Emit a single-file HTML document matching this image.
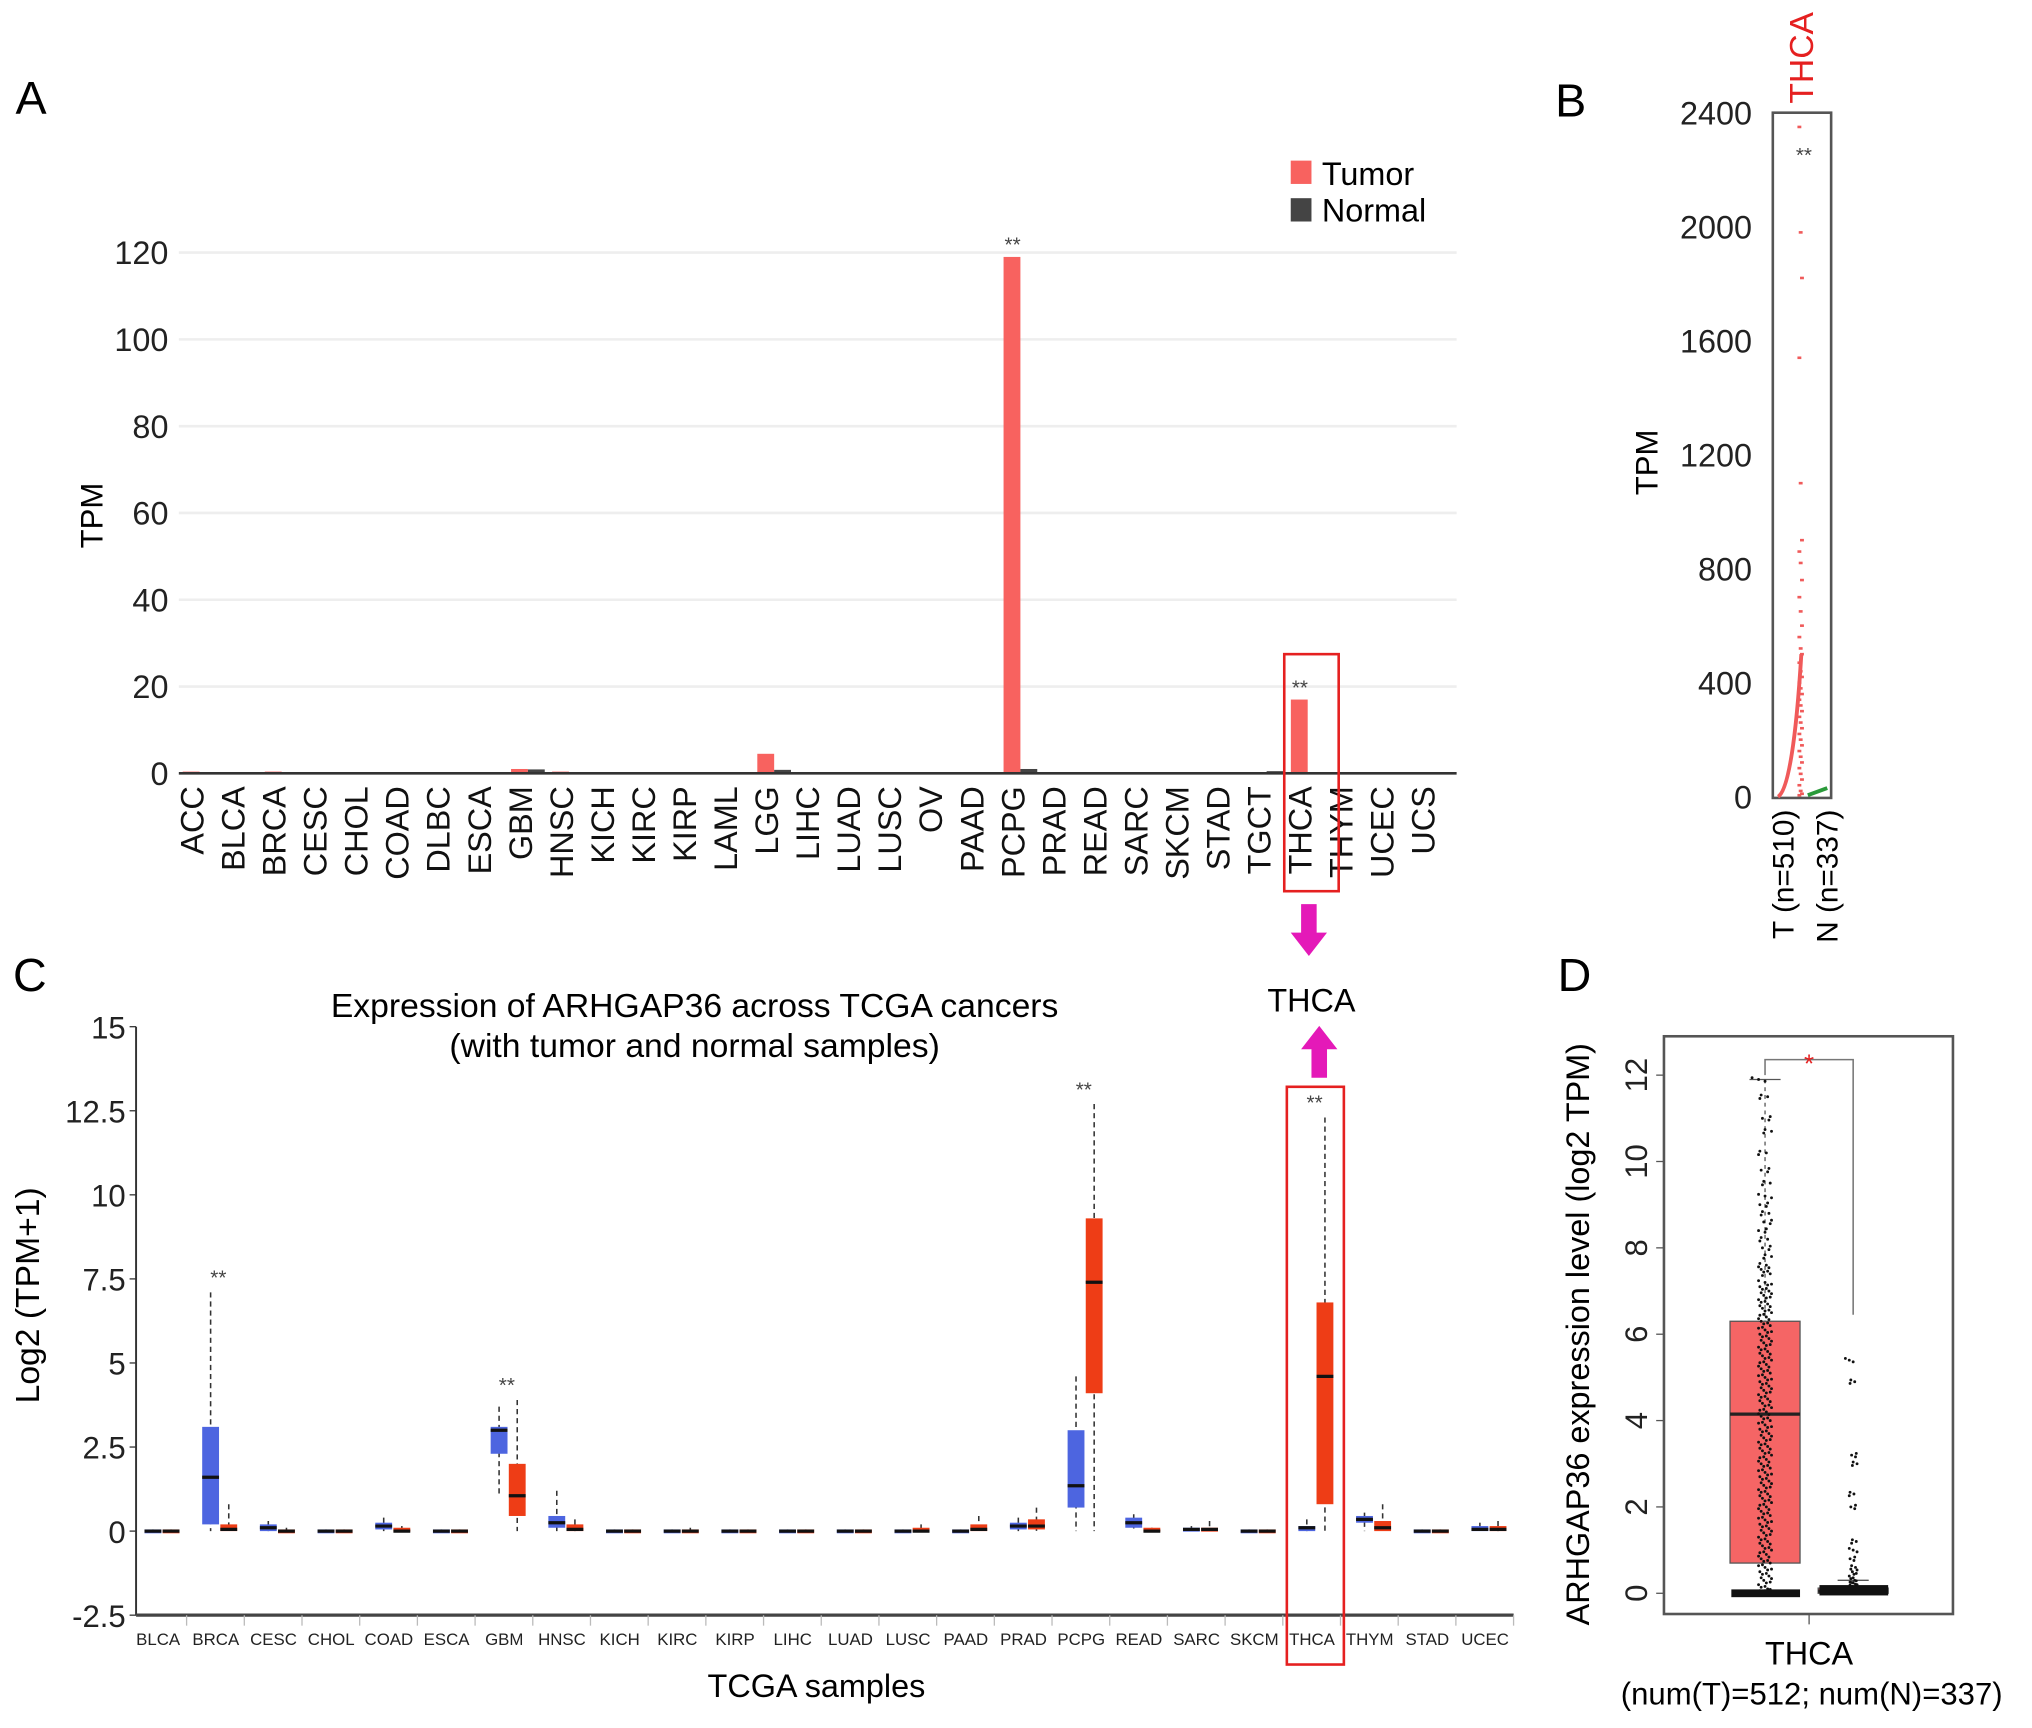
<!DOCTYPE html>
<html><head><meta charset="utf-8"><style>
html,body{margin:0;padding:0;background:#fff}
svg{display:block;font-family:"Liberation Sans",sans-serif}
</style></head><body>
<svg id="fig" width="2032" height="1728" viewBox="0 0 1568 1334" preserveAspectRatio="none" xmlns="http://www.w3.org/2000/svg">
<g id="pA"></g>
<g id="pB"></g>
<g id="pC"></g>
<g id="pD"></g>
</svg>
<script>
// ---- Panel A data ----
const catsA = ["ACC","BLCA","BRCA","CESC","CHOL","COAD","DLBC","ESCA","GBM","HNSC","KICH","KIRC","KIRP","LAML","LGG","LIHC","LUAD","LUSC","OV","PAAD","PCPG","PRAD","READ","SARC","SKCM","STAD","TGCT","THCA","THYM","UCEC","UCS"];
const tumorA = [0.4,0.1,0.4,0.2,0.1,0.2,0.1,0.1,1.0,0.4,0.1,0.1,0.1,0.0,4.5,0.1,0.1,0.3,0.3,0.3,119,0.3,0.2,0.3,0.1,0.1,0.3,17,0.2,0.3,0.3];
const normalA = [0.1,0.2,0.2,0.2,0.2,0.2,0.2,0.2,0.9,0.3,0.2,0.2,0.2,0.0,0.8,0.2,0.2,0.2,0.2,0.2,1.0,0.2,0.2,0.2,0.2,0.2,0.5,0.2,0.2,0.2,0.2];
const ticksA = [0,20,40,60,80,100,120];
const starsA = ["PCPG","THCA"];
// ---- Panel B data ----
const ticksB = [0,400,800,1200,1600,2000,2400];
const pointsB = [2350,1980,1820,1540,1100,900,860,820,760,700,650,600,560,520,500,470,440,420,400,380,360,340,320,300,280,260,240,220,200,180,160,140,120,100,80,60,40,20,10,5];
// ---- Panel C data ----
const catsC = ["BLCA","BRCA","CESC","CHOL","COAD","ESCA","GBM","HNSC","KICH","KIRC","KIRP","LIHC","LUAD","LUSC","PAAD","PRAD","PCPG","READ","SARC","SKCM","THCA","THYM","STAD","UCEC"];
// [whiskerLow, q1, median, q3, whiskerHigh]
const normC = [[0,0,0,0.05,0.05],[0,0.2,1.6,3.1,7.1],[0,0,0.1,0.2,0.3],[0,0,0,0.05,0.05],[0,0.05,0.15,0.25,0.4],[0,0,0,0.05,0.05],[1.1,2.3,3.0,3.1,3.7],[0,0.1,0.25,0.45,1.2],[0,0,0,0.05,0.05],[0,0,0,0.05,0.05],[0,0,0,0.05,0.05],[0,0,0,0.05,0.05],[0,0,0,0.05,0.05],[0,0,0,0.05,0.05],[0,0,0,0.05,0.05],[0,0.05,0.15,0.25,0.4],[0,0.7,1.35,3.0,4.6],[0,0.1,0.25,0.4,0.5],[0,0,0.05,0.1,0.15],[0,0,0,0.05,0.05],[0,0,0.1,0.15,0.35],[0,0.25,0.35,0.45,0.55],[0,0,0,0.05,0.05],[0,0,0.05,0.15,0.25]];
const tumC = [[0,0,0,0.05,0.05],[0,0,0.05,0.2,0.8],[0,0,0,0.05,0.1],[0,0,0,0.05,0.05],[0,0,0,0.1,0.15],[0,0,0,0.05,0.05],[0,0.45,1.05,2.0,3.9],[0,0,0.05,0.2,0.35],[0,0,0,0.05,0.05],[0,0,0,0.05,0.1],[0,0,0,0.05,0.05],[0,0,0,0.05,0.05],[0,0,0,0.05,0.05],[0,0,0,0.1,0.2],[0,0,0.05,0.2,0.45],[0,0.05,0.15,0.35,0.7],[0,4.1,7.4,9.3,12.7],[0,0,0,0.1,0.1],[0,0,0.05,0.1,0.3],[0,0,0,0.05,0.05],[0,0.8,4.6,6.8,12.3],[0,0,0.1,0.3,0.8],[0,0,0,0.05,0.05],[0,0,0.05,0.15,0.3]];
const ticksC = [-2.5,0,2.5,5,7.5,10,12.5,15];
const tickLabC = ["-2.5","0","2.5","5","7.5","10","12.5","15"];
const starsC = ["BRCA","GBM","PCPG","THCA"];
// ---- Panel D data ----
const ticksD = [0,2,4,6,8,10,12];
const tumorBoxD = [0,0.7,4.15,6.3,11.9];
const normalBoxD = [0,0,0.05,0.12,0.3];
const tumorPtsD = [11.9,11.5,11.0,10.7,10.2,9.8,9.5,9.2,9.0,8.8,8.6,8.4,8.2,8.0,7.8,7.6,7.5,7.4,7.2,7.1,7.0,6.9,6.8,6.7,6.6,6.5,6.4,6.3,6.2,6.1,6.0,5.9,5.8,5.7,5.6,5.5,5.4,5.3,5.2,5.1,5.0,4.9,4.8,4.7,4.6,4.5,4.4,4.3,4.2,4.1,4.0,3.9,3.8,3.7,3.6,3.5,3.4,3.3,3.2,3.1,3.0,2.9,2.8,2.7,2.6,2.5,2.4,2.3,2.2,2.1,2.0,1.9,1.8,1.7,1.6,1.5,1.4,1.3,1.2,1.1,1.0,0.9,0.8,0.7,0.6,0.5,0.4,0.3,0.2,0.1,0.05,0.02,0];
const normalPtsD = [5.4,4.9,3.2,3.0,2.3,2.0,1.2,1.0,0.8,0.6,0.5,0.4,0.3,0.25,0.2,0.15,0.1,0.05,0];

const NS="http://www.w3.org/2000/svg";
function mk(parent,tag,attrs,text){const e=document.createElementNS(NS,tag);for(const k in attrs)e.setAttribute(k,attrs[k]);if(text!==undefined)e.textContent=text;parent.appendChild(e);return e;}
const A=document.getElementById('pA'),B=document.getElementById('pB'),C=document.getElementById('pC'),D=document.getElementById('pD');
let t;

// ===== Panel A =====
t=mk(A,'text',{x:12,y:88,'font-size':36},'A');


const yA=v=>597-v*(402/120);
const xA=i=>148+i*31.67;
ticksA.forEach(v=>{
  const g=mk(A,'line',{x1:138,x2:1124,y1:yA(v),y2:yA(v),stroke:'#eeeeee','stroke-width':2});
  
  
  const l=mk(A,'text',{x:130,y:yA(v)+9,'font-size':25,'text-anchor':'end',fill:'#222'},String(v));
  
  
});
catsA.forEach((c,i)=>{
  const x=xA(i);
  const tb=mk(A,'rect',{x:x-7,y:yA(tumorA[i]),width:13,height:597-yA(tumorA[i]),fill:'#f8625f'});
  
  
  const nb=mk(A,'rect',{x:x+6,y:yA(normalA[i]),width:13,height:597-yA(normalA[i]),fill:'#444'});
  
  
  const l=mk(A,'text',{x:0,y:0,'font-size':25,'text-anchor':'end',fill:'#111',transform:`translate(${x+9},607) rotate(-90)`},c);
  
  
  if(starsA.includes(c)){
    const s=mk(A,'text',{x:x,y:yA(tumorA[i])-4,'font-size':16,'text-anchor':'middle',fill:'#444'},'**');
    
    
  }
});
t=mk(A,'line',{x1:138,x2:1124,y1:597,y2:597,stroke:'#333','stroke-width':2});


t=mk(A,'text',{x:0,y:0,'font-size':24,'text-anchor':'middle',transform:'translate(79,398) rotate(-90)'},'TPM');


t=mk(A,'rect',{x:996,y:124,width:16,height:18,fill:'#f8625f'});


t=mk(A,'text',{x:1020,y:143,'font-size':25},'Tumor');


t=mk(A,'rect',{x:996,y:153,width:16,height:18,fill:'#444'});


t=mk(A,'text',{x:1020,y:171,'font-size':25},'Normal');


t=mk(A,'rect',{x:991,y:505,width:42,height:183,fill:'none',stroke:'#e52020','stroke-width':2});


t=mk(A,'path',{d:'M1004,698 h12 v22 h8 l-14,18 l-14,-18 h8 z',fill:'#e419b8'});


t=mk(A,'text',{x:1012,y:781,'font-size':25,'text-anchor':'middle'},'THCA');


t=mk(A,'path',{d:'M1012,832 h12 v-22 h8 l-14,-18 l-14,18 h8 z',fill:'#e419b8'});



// ===== Panel B =====
t=mk(B,'text',{x:1200,y:90,'font-size':36},'B');


const yB=v=>615-v*(528/2400);
ticksB.forEach(v=>{
  const l=mk(B,'text',{x:1352,y:yB(v)+9,'font-size':25,'text-anchor':'end',fill:'#222'},String(v));
  
  
});
t=mk(B,'rect',{x:1368,y:87,width:45,height:529,fill:'none',stroke:'#555','stroke-width':2});


t=mk(B,'text',{x:0,y:0,'font-size':24,'text-anchor':'middle',transform:'translate(1279,357) rotate(-90)'},'TPM');


t=mk(B,'text',{x:0,y:0,'font-size':26,'fill':'#e52020',transform:'translate(1399,80) rotate(-90)'},'THCA');


t=mk(B,'text',{x:1392,y:125,'font-size':16,'text-anchor':'middle',fill:'#444'},'**');


pointsB.forEach((v,i)=>{
  const p=mk(B,'rect',{x:1387+(i%3),y:yB(v)-1,width:3,height:2,fill:'#f05a5a'});
  
  
});
t=mk(B,'path',{d:`M1372,${yB(0)} C1380,${yB(20)} 1386,${yB(200)} 1390,${yB(500)}`,fill:'none',stroke:'#f05a5a','stroke-width':3});


t=mk(B,'path',{d:`M1395,${yB(5)} L1410,${yB(30)}`,fill:'none',stroke:'#2a9a3a','stroke-width':3});


t=mk(B,'text',{x:0,y:0,'font-size':23,'text-anchor':'end',transform:'translate(1384,625) rotate(-90)'},'T (n=510)');


t=mk(B,'text',{x:0,y:0,'font-size':23,'text-anchor':'end',transform:'translate(1418,625) rotate(-90)'},'N (n=337)');



// ===== Panel C =====
t=mk(C,'text',{x:10,y:765,'font-size':36},'C');


const yC=v=>1182-v*(64.9/2.5);
const xC=i=>122+i*44.52;
ticksC.forEach((v,k)=>{
  const l=mk(C,'text',{x:97,y:yC(v)+9,'font-size':24,'text-anchor':'end',fill:'#222'},tickLabC[k]);
  
  
  const tk=mk(C,'line',{x1:100,x2:105,y1:yC(v),y2:yC(v),stroke:'#333','stroke-width':1});
  
  
});
t=mk(C,'line',{x1:105,x2:105,y1:yC(15),y2:yC(-2.5),stroke:'#333','stroke-width':1.5});


t=mk(C,'line',{x1:105,x2:1168,y1:yC(-2.5),y2:yC(-2.5),stroke:'#444','stroke-width':2.5});


function boxC(x,b,col,name){
  const w=mk(C,'line',{x1:x,x2:x,y1:yC(b[4]),y2:yC(b[0]),stroke:'#333','stroke-width':1.2,'stroke-dasharray':'4,3'});
  
  
  const r=mk(C,'rect',{x:x-6.5,y:yC(b[3]),width:13,height:Math.max(3,yC(b[1])-yC(b[3])),fill:col});
  
  
  const m=mk(C,'line',{x1:x-6.5,x2:x+6.5,y1:yC(b[2]),y2:yC(b[2]),stroke:'#111','stroke-width':2.5});
  
  
}
catsC.forEach((c,i)=>{
  const x=xC(i);
  boxC(x-4,normC[i],'#4d65e0','normal-'+c.toLowerCase());
  boxC(x+10,tumC[i],'#ee3d16','tumor-'+c.toLowerCase());
  const l=mk(C,'text',{x:x,y:1270,'font-size':13,'text-anchor':'middle',fill:'#222'},c);
  
  
  const sep=mk(C,'line',{x1:x+22,x2:x+22,y1:1247,y2:1255,stroke:'#bbb','stroke-width':1});
  
  
  if(starsC.includes(c)){
    const hi=Math.max(normC[i][4],tumC[i][4]);
    const s=mk(C,'text',{x:x+2,y:yC(hi)-6,'font-size':16,'text-anchor':'middle',fill:'#444'},'**');
    
    
  }
});
t=mk(C,'text',{x:536,y:785,'font-size':26,'text-anchor':'middle'},'Expression of ARHGAP36 across TCGA cancers');


t=mk(C,'text',{x:536,y:816,'font-size':26,'text-anchor':'middle'},'(with tumor and normal samples)');


t=mk(C,'text',{x:630,y:1310,'font-size':25,'text-anchor':'middle'},'TCGA samples');


t=mk(C,'text',{x:0,y:0,'font-size':26,'text-anchor':'middle',transform:'translate(30,1000) rotate(-90)'},'Log2 (TPM+1)');


t=mk(C,'rect',{x:993,y:839,width:44,height:446,fill:'none',stroke:'#e52020','stroke-width':2});



// ===== Panel D =====
t=mk(D,'text',{x:1202,y:765,'font-size':36},'D');


const yD=v=>1230-v*(400/12);
t=mk(D,'rect',{x:1284,y:800,width:223,height:446,fill:'none',stroke:'#555','stroke-width':2});


ticksD.forEach(v=>{
  const l=mk(D,'text',{x:0,y:0,'font-size':24,'text-anchor':'middle',fill:'#222',transform:`translate(1271,${yD(v)}) rotate(-90)`},String(v));
  
  
  const tk=mk(D,'line',{x1:1278,x2:1284,y1:yD(v),y2:yD(v),stroke:'#555','stroke-width':1});
  
  
});
t=mk(D,'text',{x:0,y:0,'font-size':25,'text-anchor':'middle',transform:'translate(1226,1030) rotate(-90)'},'ARHGAP36 expression level (log2 TPM)');


function boxD(cx,b,name){
  const w=mk(D,'line',{x1:cx,x2:cx,y1:yD(b[4]),y2:yD(b[3]),stroke:'#555','stroke-width':1,'stroke-dasharray':'3,3'});
  
  
  const cap=mk(D,'line',{x1:cx-12,x2:cx+12,y1:yD(b[4]),y2:yD(b[4]),stroke:'#555','stroke-width':1});
  
  
  const r=mk(D,'rect',{x:cx-27,y:yD(b[3]),width:54,height:Math.max(3,yD(b[1])-yD(b[3])),fill:'#f56565',stroke:'#555','stroke-width':1});
  
  
  const m=mk(D,'line',{x1:cx-27,x2:cx+27,y1:yD(b[2]),y2:yD(b[2]),stroke:'#222','stroke-width':2.5});
  
  
}
boxD(1362,tumorBoxD,'d-tumor');
boxD(1430,normalBoxD,'d-normal');
function dotsD(cx,pts,spread,name){
  pts.forEach((v,i)=>{
    for(let k=-1;k<=1;k++){
      const off=((i*7+k*5)%11-5)/5*spread;
      const d=mk(D,'circle',{cx:cx+off,cy:yD(Math.max(0,v-k*0.04)),r:1.1,fill:'#111'});
      
      
    }
  });
}
dotsD(1362,tumorPtsD,5,'d-tumor');
dotsD(1430,normalPtsD,3,'d-normal');
t=mk(D,'rect',{x:1336,y:yD(0)-3,width:53,height:6,fill:'#111'});


t=mk(D,'rect',{x:1404,y:yD(0.1)-3,width:53,height:8,fill:'#111'});


t=mk(D,'path',{d:'M1362,830 V818 H1430 V1015',fill:'none',stroke:'#777','stroke-width':1.2});


t=mk(D,'text',{x:1396,y:828,'font-size':20,'text-anchor':'middle',fill:'#e52020'},'*');


t=mk(D,'line',{x1:1396,x2:1396,y1:1246,y2:1254,stroke:'#555','stroke-width':1});


t=mk(D,'text',{x:1396,y:1285,'font-size':25,'text-anchor':'middle'},'THCA');


t=mk(D,'text',{x:1398,y:1316,'font-size':24,'text-anchor':'middle'},'(num(T)=512; num(N)=337)');


</script>
</body></html>
